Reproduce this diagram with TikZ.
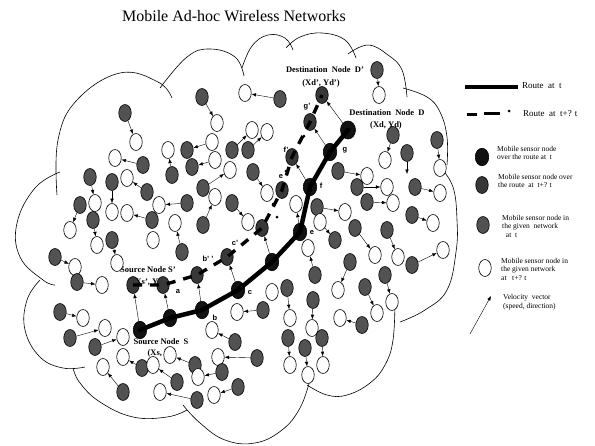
\documentclass[tikz,border=0pt]{standalone}
\usepackage{fontspec}
\setmainfont{Liberation Serif}
\setsansfont{Liberation Sans}
\usetikzlibrary{shapes.geometric,arrows.meta}
\begin{document}
\begin{tikzpicture}[x=1pt,y=-1pt,
  wn/.style={draw, ellipse, fill=white, minimum width=12.5pt, minimum height=17pt, inner sep=0pt, line width=0.6pt},
  gn/.style={wn, fill=black!68},
  rn/.style={wn, fill=black!93, minimum width=13.5pt, minimum height=17.5pt},
  pn/.style={wn, fill=black!78},
  vel/.style={-{Latex[length=4.5pt,width=3.5pt]}, line width=0.4pt},
  cl/.style={line width=0.6pt},
  route/.style={line width=4.5pt, line cap=round},
  droute/.style={line width=3.4pt, dash pattern=on 9pt off 8pt},
  rl/.style={font=\fontsize{7.5}{8}\selectfont\sffamily\bfseries, inner sep=0pt},
  dl/.style={font=\fontsize{8.5}{9}\selectfont\bfseries, inner sep=0pt},
  lg/.style={font=\fontsize{7.5}{8.5}\selectfont, align=left, anchor=west, inner sep=0pt},
  dotn/.style={circle, fill=black, inner sep=0pt, minimum size=3pt}
]
\useasboundingbox (0,0) rectangle (595,445);
% title
\node (title) at (234,16) {\fontsize{16}{18}\selectfont Mobile Ad-hoc Wireless Networks};
% cloud outline
\draw[cl] plot[smooth, tension=0.7] coordinates {(57,195) (58,140) (77,100) (120,73) (158,82) (172,98)};
\draw[cl] plot[smooth, tension=0.7] coordinates {(160,88) (187,57) (210,49) (235,57) (244,76)};
\draw[cl] plot[smooth, tension=0.7] coordinates {(242,68) (252,46) (268,35) (285,38) (293,50)};
\draw[cl] plot[smooth, tension=0.7] coordinates {(286,48) (300,37) (322,33) (345,40) (356,58)};
\draw[cl] plot[smooth, tension=0.7] coordinates {(348,54) (368,45) (388,55) (402,70) (407,97)};
\draw[cl] plot[smooth, tension=0.7] coordinates {(403,88) (427,97) (440,112) (447,137) (447,165)};
\draw[cl] plot[smooth, tension=0.7] coordinates {(440,167) (453,187) (457,220) (456,252) (447,290) (425,310) (400,322)};
\draw[cl] plot[smooth, tension=0.7] coordinates {(395,300) (393,340) (385,365) (370,383) (347,395) (327,395) (307,385)};
\draw[cl] plot[smooth, tension=0.7] coordinates {(310,380) (300,408) (282,430) (255,443) (225,440) (200,423) (183,405)};
\draw[cl] plot[smooth, tension=0.7] coordinates {(187,410) (167,417) (133,417) (100,402) (80,383) (73,368)};
\draw[cl] plot[smooth, tension=0.7] coordinates {(85,367) (63,368) (40,357) (25,330) (27,300) (40,280)};
\draw[cl] plot[smooth, tension=0.7] coordinates {(55,285) (43,280) (20,257) (17,223) (35,188) (60,172)};
% texts inside the cloud
\node[dl] (dpl1) at (325,70) {Destination \ Node \ D'};
\node[dl] (dpl2) at (321,83) {(Xd', Yd')};
\node[dl] (dl1) at (387,113) {Destination \ Node \ D};
\node[dl] (dl2) at (386,125) {(Xd, Yd)};
\node[dl] (sl1) at (148,270) {Source Node S'};
\node[dl] (sl2) at (150,282) {(Xs', Ys')};
\node[dl] (sl3) at (161,342) {Source Node \ S};
\node[dl] (sl4) at (162,353) {(Xs, Ys)};
% network nodes: grey at t -> white at t+dt
\foreach \gx/\gy/\wx/\wy [count=\i] in {
 125/113/136/142, 143/165/115/158, 202/97/217/123, 280/99/245/93, 172/175/168/150,
 232/150/252/130, 248/150/267/132, 203/188/230/170, 203/225/215/197, 187/203/159/205,
 253/172/267/193, 232/203/248/222, 147/192/127/178, 90/177/95/203, 112/182/112/212,
 80/205/70/230, 93/220/97/245, 152/220/127/213, 112/240/117/263, 55/257/75/267,
 77/282/102/285, 60/312/83/318, 70/338/105/328, 95/347/123/337, 123/392/103/367,
 142/368/123/357, 177/382/153/365, 195/365/170/355, 197/400/160/392, 257/358/218/357,
 222/372/198/377, 238/387/214/395, 235/342/212/330, 263/310/237/312, 287/288/290/318,
 288/338/290/365, 313/300/312/328, 305/348/308/375, 322/338/323/365, 362/325/340/318,
 350/262/338/290, 385/275/392/302, 365/287/377/313, 315/275/308/248, 355/228/375/255,
 387/230/398/257, 412/265/443/250, 412/215/433/223, 415/187/440/193, 367/202/393/203,
 357/187/387/187, 338/171/367/176, 393/135/385/160, 437/140/440/168, 377/70/379/95,
 317/207/345/212, 182/252/175/223}{
  \node[gn] (g\i) at (\gx,\gy) {};
  \node[wn] (w\i) at (\wx,\wy) {};
  \draw[vel] (g\i) -- (w\i);
}
% white -> grey
\foreach \wx/\wy/\gx/\gy [count=\i] in {212/142/187/150, 215/160/192/167, 320/222/335/240}{
  \node[gn] (h\i) at (\gx,\gy) {};
  \node[wn] (v\i) at (\wx,\wy) {};
  \draw[vel] (v\i) -- (h\i);
}
\node[wn] (x1) at (153,240) {};
\node[wn] (x2) at (272,292) {};
\node[gn] (x3) at (407,153) {};
\coordinate (x3e) at (407,174);
\draw[vel] (x3) -- (x3e);
% route at t
\node[rn] (S) at (140,330) {};
\node[rn] (a) at (170,318) {};
\node[rn] (b) at (202,310) {};
\node[rn] (c) at (238,290) {};
\node[rn] (d) at (272,262) {};
\node[rn] (e) at (300,232) {};
\node[rn] (f) at (310,187) {};
\node[rn] (g) at (330,152) {};
\node[rn, minimum width=15pt, minimum height=18pt] (D) at (348,130) {};
% route at t + dt
\node[pn] (Sp) at (133,285) {};
\node[pn] (ap) at (163,285) {};
\node[pn] (bp) at (197,275) {};
\node[pn] (cp) at (227,257) {};
\node[pn] (dp) at (262,228) {};
\node[pn] (ep) at (282,190) {};
\node[pn] (fp) at (292,157) {};
\node[pn] (gp) at (310,122) {};
\node[pn] (Dp) at (322,95) {};
\node[wn] (x4) at (296,204) {};
\draw[route] (S.center) -- (a.center) -- (b.center) -- (c.center) -- (d.center) -- (e.center) -- (f.center) -- (g.center) -- (D.center);
\draw[droute] (Sp.center) -- (ap.center) -- (bp.center) -- (cp.center) -- (dp.center) -- (ep.center) -- (fp.center) -- (gp.center) -- (Dp.center);
\draw[vel] (S) -- (Sp);
\draw[vel] (a) -- (ap);
\draw[vel] (b) -- (bp);
\draw[vel] (c) -- (cp);
\draw[vel] (d) -- (dp);
\draw[vel] (e) -- (x4);
\draw[vel] (f) -- (fp);
\draw[vel] (g) -- (gp);
\draw[vel] (D) -- (Dp);
\node[dotn] (o1) at (304,136) {};
\node[dotn] (o2) at (286,171) {};
\node[dotn] (o3) at (273,204) {};
\node[dotn] (o4) at (277,217) {};
% route labels
\node[rl] (lb) at (215,318) {b};
\node[rl] (lc) at (250,293) {c};
\node[rl] (le) at (312,233) {e};
\node[rl] (lf) at (321,186) {f};
\node[rl] (lg) at (345,150) {g};
\node[rl] (lap) at (178,292) {a};
\node[rl] (lbp) at (208,259) {b' '};
\node[rl] (lcp) at (235,243) {c'};
\node[rl] (lep) at (281,177) {e};
\node[rl] (lfp) at (286,150) {f'};
\node[rl] (lgp) at (307,107) {g'};
% legend
\coordinate (r1a) at (465,87);
\coordinate (r1b) at (518,87);
\draw[line width=4.5pt] (r1a) -- (r1b);
\node[lg, font=\fontsize{9}{10}\selectfont] (t1) at (522,86) {Route \ at \ t};
\coordinate (r2a) at (467,114);
\coordinate (r2b) at (477,114);
\coordinate (r2c) at (484,113);
\coordinate (r2d) at (500,113);
\draw[line width=3pt] (r2a) -- (r2b);
\draw[line width=3pt] (r2c) -- (r2d);
\node[dotn] (r2e) at (509,111) {};
\node[lg, font=\fontsize{9}{10}\selectfont] (t2) at (523,114) {Route \ at \ t+? t};
\node[rn] (L1) at (482,157) {};
\node[lg] (t3) at (497,153) {Mobile sensor node\\over the route at \ t};
\node[pn] (L2) at (482,185) {};
\node[lg] (t4) at (498,181) {Mobile sensor node over\\the route \ at \ t+? t};
\node[gn] (L3) at (483,225) {};
\node[lg] (t5) at (502,226) {Mobile sensor node in\\the given \ network\\\ \ at \ t};
\node[wn] (L4) at (485,268) {};
\node[lg] (t6) at (501,269) {Mobile sensor node in\\the given network\\at \ \ t+? t};
\coordinate (va) at (470,334);
\coordinate (vb) at (491,296);
\draw[vel] (va) -- (vb);
\node[lg] (t7) at (503,302) {Velocity \ vector\\(speed, direction)};
\end{tikzpicture}
\end{document}
